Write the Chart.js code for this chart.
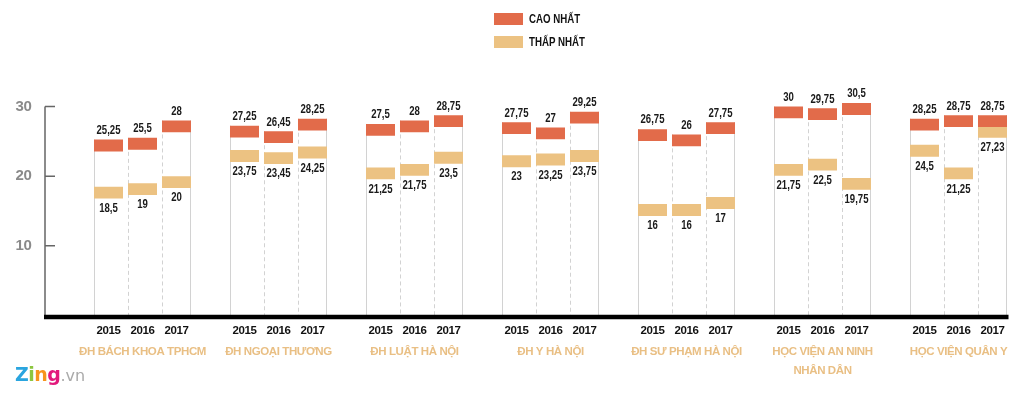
<!DOCTYPE html>
<html>
<head>
<meta charset="utf-8">
<script src="https://cdn.jsdelivr.net/npm/chart.js@4"></script>
<style>
  body { margin: 0; background: #fff; }
  #wrap { position: relative; width: 1024px; height: 397px; }
  .legend { position: absolute; left: 494px; font: bold 13.5px 'Liberation Sans', sans-serif; color: #111; display: flex; align-items: center; white-space: nowrap; }
  .legend span.sw { display: inline-block; width: 29px; height: 12px; margin-right: 6px; }
  .legend span.tx { display: inline-block; transform: scaleX(0.72); transform-origin: left center; }
  #logo { position: absolute; left: 15px; top: 363px; font: bold 19px 'DejaVu Sans', sans-serif; letter-spacing: -0.5px; }
  #logo .vn { font: 16px 'DejaVu Sans', sans-serif; color: #aaa; letter-spacing: 0; }
</style>
</head>
<body>
<div id="wrap">
  <canvas id="scoreChart" width="1024" height="397"></canvas>
  <div class="legend" style="top:11px"><span class="sw" style="background:#e26b4a"></span><span class="tx">CAO NHẤT</span></div>
  <div class="legend" style="top:34px"><span class="sw" style="background:#ecc282"></span><span class="tx">THẤP NHẤT</span></div>
  <div id="logo"><span style="color:#2aa5df">Z</span><span style="color:#8cc63f">i</span><span style="color:#f7941d">n</span><span style="color:#e2197c">g</span><span class="vn">.vn</span></div>
</div>
<script>
// Data
const groups = ['ĐH BÁCH KHOA TPHCM', 'ĐH NGOẠI THƯƠNG', 'ĐH LUẬT HÀ NỘI', 'ĐH Y HÀ NỘI',
  'ĐH SƯ PHẠM HÀ NỘI', ['HỌC VIỆN AN NINH', 'NHÂN DÂN'], 'HỌC VIỆN QUÂN Y'];
const years = ['2015', '2016', '2017'];
const caoNhat = [25.25, 25.5, 28, 27.25, 26.45, 28.25, 27.5, 28, 28.75, 27.75, 27, 29.25,
  26.75, 26, 27.75, 30, 29.75, 30.5, 28.25, 28.75, 28.75];
const thapNhat = [18.5, 19, 20, 23.75, 23.45, 24.25, 21.25, 21.75, 23.5, 23, 23.25, 23.75,
  16, 16, 17, 21.75, 22.5, 19.75, 24.5, 21.25, 27.23];
const yTicks = [10, 20, 30];

const BAND = 1.7; // thickness of the coloured band, in score units
const RED = '#e26b4a';
const ORANGE = '#ecc282';
const FONT = "'Liberation Sans', sans-serif";

// build category slots: a blank slot before the first group and between groups
const yearLabels = [''];
const groupLabels = [''];
const slotIdx = [null]; // slot -> data index (or null)
groups.forEach((g, gi) => {
  years.forEach((y, yi) => {
    yearLabels.push(y);
    groupLabels.push(yi === 1 ? g : '');
    slotIdx.push(gi * years.length + yi);
  });
  if (gi < groups.length - 1) {
    yearLabels.push('');
    groupLabels.push('');
    slotIdx.push(null);
  }
});

const bandData = (arr) => slotIdx.map(i => i === null ? null : [arr[i] - BAND, arr[i]]);
const fmt = v => String(v).replace('.', ',');

// condensed text: draw squeezed horizontally
function narrowText(ctx, text, x, y) {
  ctx.save();
  ctx.translate(x, y);
  ctx.scale(0.8, 1);
  ctx.fillText(text, 0, 0);
  ctx.restore();
}

// column outlines, axes and value labels
const decoPlugin = {
  id: 'deco',
  beforeDraw(chart) {
    chart.ctx.letterSpacing = '-0.4px';
  },
  beforeDatasetsDraw(chart) {
    const ctx = chart.ctx;
    const y = chart.scales.y;
    const base = y.getPixelForValue(0);
    const meta = chart.getDatasetMeta(0);
    ctx.save();
    ctx.lineWidth = 1;
    ctx.strokeStyle = '#d2d2d2';
    meta.data.forEach((bar, s) => {
      const i = slotIdx[s];
      if (i === null || !bar) return;
      const yi = i % years.length;
      const left = Math.round(bar.x - bar.width / 2) + 0.5;
      ctx.setLineDash(yi === 0 ? [] : [4, 3]);
      ctx.beginPath();
      ctx.moveTo(left, bar.y);
      ctx.lineTo(left, base);
      ctx.stroke();
      if (yi === years.length - 1) {
        const right = Math.round(bar.x + bar.width / 2) - 0.5;
        ctx.setLineDash([]);
        ctx.beginPath();
        ctx.moveTo(right, bar.y);
        ctx.lineTo(right, base);
        ctx.stroke();
      }
    });
    ctx.restore();
  },
  afterDatasetsDraw(chart) {
    const ctx = chart.ctx;
    const area = chart.chartArea;
    const y = chart.scales.y;
    const base = y.getPixelForValue(0);
    const x0 = area.left - 12.5;
    ctx.save();
    // y axis line and ticks
    ctx.strokeStyle = '#666';
    ctx.lineWidth = 1.5;
    ctx.beginPath();
    ctx.moveTo(x0, y.getPixelForValue(yTicks[yTicks.length - 1]));
    ctx.lineTo(x0, base);
    yTicks.forEach(t => {
      const py = y.getPixelForValue(t);
      ctx.moveTo(x0, py);
      ctx.lineTo(x0 + 10, py);
    });
    ctx.stroke();
    // thick baseline
    ctx.strokeStyle = '#000';
    ctx.lineWidth = 4.5;
    ctx.beginPath();
    ctx.moveTo(x0 - 1, base + 1.5);
    ctx.lineTo(area.right - 1, base + 1.5);
    ctx.stroke();
    // value labels
    ctx.letterSpacing = '0px';
    ctx.fillStyle = '#1a1a1a';
    ctx.font = 'bold 12px ' + FONT;
    ctx.textAlign = 'center';
    chart.getDatasetMeta(0).data.forEach((bar, s) => {
      const i = slotIdx[s];
      if (i === null) return;
      ctx.textBaseline = 'bottom';
      narrowText(ctx, fmt(caoNhat[i]), bar.x, bar.y - 3);
    });
    chart.getDatasetMeta(1).data.forEach((bar, s) => {
      const i = slotIdx[s];
      if (i === null) return;
      ctx.textBaseline = 'top';
      narrowText(ctx, fmt(thapNhat[i]), bar.x, bar.base + 4);
    });
    ctx.restore();
  }
};

Chart.defaults.font.family = FONT;
Chart.defaults.font.weight = 'bold';

new Chart(document.getElementById('scoreChart'), {
  type: 'bar',
  data: {
    labels: yearLabels,
    datasets: [
      { label: 'CAO NHẤT', data: bandData(caoNhat), backgroundColor: RED, grouped: false },
      { label: 'THẤP NHẤT', data: bandData(thapNhat), backgroundColor: ORANGE, grouped: false }
    ]
  },
  options: {
    responsive: false,
    animation: false,
    barPercentage: 0.853,
    categoryPercentage: 1,
    layout: { padding: { top: 2.75, right: 14.5, left: 0, bottom: 0 } },
    plugins: { legend: { display: false }, tooltip: { enabled: false } },
    scales: {
      x: {
        type: 'category',
        offset: true,
        grid: { display: false },
        border: { display: false },
        ticks: { autoSkip: false, maxRotation: 0, minRotation: 0, color: '#111', padding: 0,
          font: { size: 11.5, weight: 'bold' } },
        afterFit: s => { s.height = 19.5; }
      },
      x2: {
        type: 'category',
        labels: groupLabels,
        position: 'bottom',
        offset: true,
        grid: { display: false },
        border: { display: false },
        ticks: { autoSkip: false, maxRotation: 0, minRotation: 0, color: '#e9bf84', padding: -1,
          font: { size: 11.5, weight: 'bold', lineHeight: 1.65 } },
        afterFit: s => { s.height = 62; }
      },
      y: {
        min: 0,
        max: 44,
        grid: { display: false, tickLength: 26 },
        border: { display: false },
        ticks: { stepSize: 10, padding: 0, color: '#8a8a8a', font: { size: 15, weight: 'bold' },
          callback: v => yTicks.includes(v) ? v : '' },
        afterFit: s => { s.width = 57.5; }
      }
    }
  },
  plugins: [decoPlugin]
});
</script>
</body>
</html>
